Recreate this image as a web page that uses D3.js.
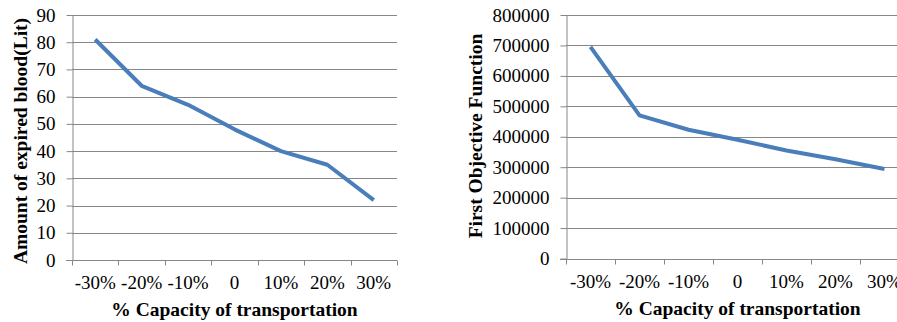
<!DOCTYPE html>
<html>
<head>
<meta charset="utf-8">
<script src="https://cdn.jsdelivr.net/npm/d3@7"></script>
<style>
  html, body { margin: 0; padding: 0; background: #fff; }
  svg { display: block; }
  svg text { font-family: "Liberation Serif", "Times New Roman", serif !important; fill: #000; }
</style>
</head>
<body>
<svg id="chart" width="897" height="322"></svg>
<script>
// Transport capacity change scenarios (shared x categories)
const capacityLabels = ["-30%", "-20%", "-10%", "0", "10%", "20%", "30%"];

// Left panel: expired blood in litres
const expiredBlood = [81, 64, 57, 48, 40, 35, 22];
const expiredTicks = [0, 10, 20, 30, 40, 50, 60, 70, 80, 90];

// Right panel: first objective function value
const firstObjective = [695000, 470000, 423000, 390000, 355000, 326000, 294000];
const objectiveTicks = [0, 100000, 200000, 300000, 400000, 500000, 600000, 700000, 800000];

const svg = d3.select("#chart");
const lineColor = "#4a7ebb";
const gridColor = "#878787";

function drawPanel(cfg) {
  const g = svg.append("g");
  const x = d3.scaleBand().domain(capacityLabels).range([cfg.left, cfg.right]).padding(0);
  const y = d3.scaleLinear().domain([0, d3.max(cfg.ticks)]).range([cfg.bottom, cfg.top]);

  // horizontal gridlines
  g.append("g").selectAll("line").data(cfg.ticks.filter(t => t > 0)).join("line")
    .attr("x1", cfg.left).attr("x2", cfg.right)
    .attr("y1", d => Math.round(y(d)) + 0.5).attr("y2", d => Math.round(y(d)) + 0.5)
    .attr("stroke", gridColor).attr("stroke-width", 1);

  // y axis with outward ticks
  const yAxis = g.append("g").attr("transform", `translate(${Math.round(cfg.left) + 0.5},0)`)
    .call(d3.axisLeft(y).tickValues(cfg.ticks).tickSize(6).tickSizeOuter(0).tickPadding(11)
      .tickFormat(d3.format("d")));
  yAxis.select(".domain").attr("stroke", gridColor);
  yAxis.selectAll(".tick line").attr("stroke", gridColor);
  yAxis.selectAll(".tick text").attr("font-size", cfg.tickFont);

  // x axis baseline with ticks at category boundaries
  const bottomY = Math.round(cfg.bottom) + 0.5;
  g.append("line").attr("x1", cfg.left - 6).attr("x2", cfg.right)
    .attr("y1", bottomY).attr("y2", bottomY).attr("stroke", gridColor);
  const bounds = capacityLabels.map(c => x(c)).concat([x(capacityLabels[capacityLabels.length - 1]) + x.bandwidth()]);
  g.append("g").selectAll("line").data(bounds).join("line")
    .attr("x1", d => Math.round(d) + 0.5).attr("x2", d => Math.round(d) + 0.5)
    .attr("y1", bottomY).attr("y2", bottomY + 5).attr("stroke", gridColor);

  // category labels
  g.append("g").selectAll("text").data(capacityLabels).join("text")
    .attr("x", d => x(d) + x.bandwidth() / 2).attr("y", cfg.bottom + 29)
    .attr("text-anchor", "middle").attr("font-size", cfg.tickFont).text(d => d);

  // axis titles
  g.append("text").attr("x", (cfg.left + cfg.right) / 2).attr("y", cfg.bottom + cfg.xTitleDy)
    .attr("text-anchor", "middle").attr("font-weight", "bold").attr("font-size", cfg.titleFont)
    .text("% Capacity of transportation");
  g.append("text")
    .attr("transform", `translate(${cfg.yTitleX},${cfg.yTitleY}) rotate(-90)`)
    .attr("text-anchor", "middle").attr("font-weight", "bold").attr("font-size", cfg.titleFont)
    .text(cfg.yTitle);

  // data line
  const line = d3.line().x((d, i) => x(capacityLabels[i]) + x.bandwidth() / 2).y(d => y(d));
  g.append("path").datum(cfg.values).attr("d", line)
    .attr("fill", "none").attr("stroke", lineColor).attr("stroke-width", 4)
    .attr("stroke-linejoin", "round").attr("stroke-linecap", "butt");
}

drawPanel({
  left: 72, right: 397, top: 15, bottom: 260,
  ticks: expiredTicks, values: expiredBlood,
  yTitle: "Amount of expired blood(Lit)", yTitleX: 27, yTitleY: 141,
  xTitleDy: 55.5, tickFont: 19, titleFont: 19.5
});

drawPanel({
  left: 566, right: 909, top: 15, bottom: 258.5,
  ticks: objectiveTicks, values: firstObjective,
  yTitle: "First Objective Function", yTitleX: 482, yTitleY: 136,
  xTitleDy: 56.5, tickFont: 19, titleFont: 19.5
});
</script>
</body>
</html>
